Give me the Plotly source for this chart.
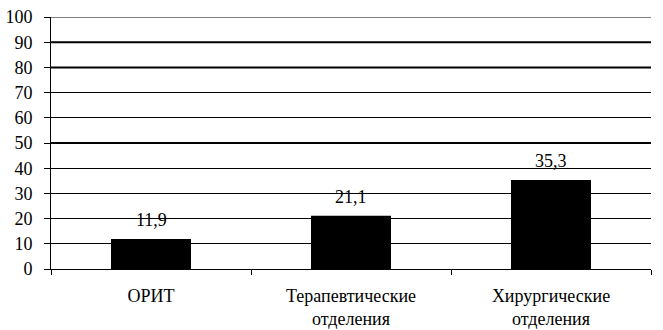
import plotly.graph_objects as go

categories = ["ОРИТ", "Терапевтические<br>отделения", "Хирургические<br>отделения"]
values = [11.9, 21.1, 35.3]
value_labels = ["11,9", "21,1", "35,3"]
y_ticks = list(range(0, 101, 10))
thick_grid = [50, 80, 90]

FONT = "serif"
FS = 18
tf = dict(family=FONT, size=FS, color="black")

fig = go.Figure()
fig.add_trace(go.Bar(
    x=categories, y=values, width=0.4,
    marker=dict(color="black", line=dict(width=0)),
    showlegend=False, hoverinfo="skip",
))
for c, v, t in zip(categories, values, value_labels):
    fig.add_annotation(x=c, y=v, text=t, showarrow=False, yanchor="bottom",
                       yshift=7, font=tf)

# top gridline and the heavier gridlines seen in the reference
fig.add_shape(type="line", xref="paper", yref="y", x0=0, x1=1, y0=100, y1=100,
              line=dict(color="black", width=1))
for g in thick_grid:
    fig.add_shape(type="line", xref="paper", yref="y", x0=0, x1=1, y0=g, y1=g,
                  line=dict(color="black", width=2), layer="below")

fig.update_layout(
    width=663, height=330,
    margin=dict(l=51, r=12, t=17, b=61, autoexpand=False),
    paper_bgcolor="white", plot_bgcolor="white",
    font=tf,
    bargap=0.6,
)
fig.update_xaxes(
    range=[-0.5, 2.5], showline=True, linecolor="black", linewidth=1,
    ticks="outside", tickson="boundaries", ticklen=5, tickcolor="black",
    ticklabelstandoff=10, automargin=False,
    showgrid=False, tickfont=tf,
)
fig.update_yaxes(
    range=[0, 100], tickvals=y_ticks, showline=True, linecolor="black", linewidth=1,
    ticks="outside", ticklen=6, tickcolor="black", ticklabelstandoff=8,
    automargin=False,
    showgrid=True, gridcolor="black", gridwidth=1, zeroline=False,
    tickfont=tf,
)
fig.write_html("out.html", config={"displayModeBar": False},
               post_script="document.body.style.margin='0px';")
